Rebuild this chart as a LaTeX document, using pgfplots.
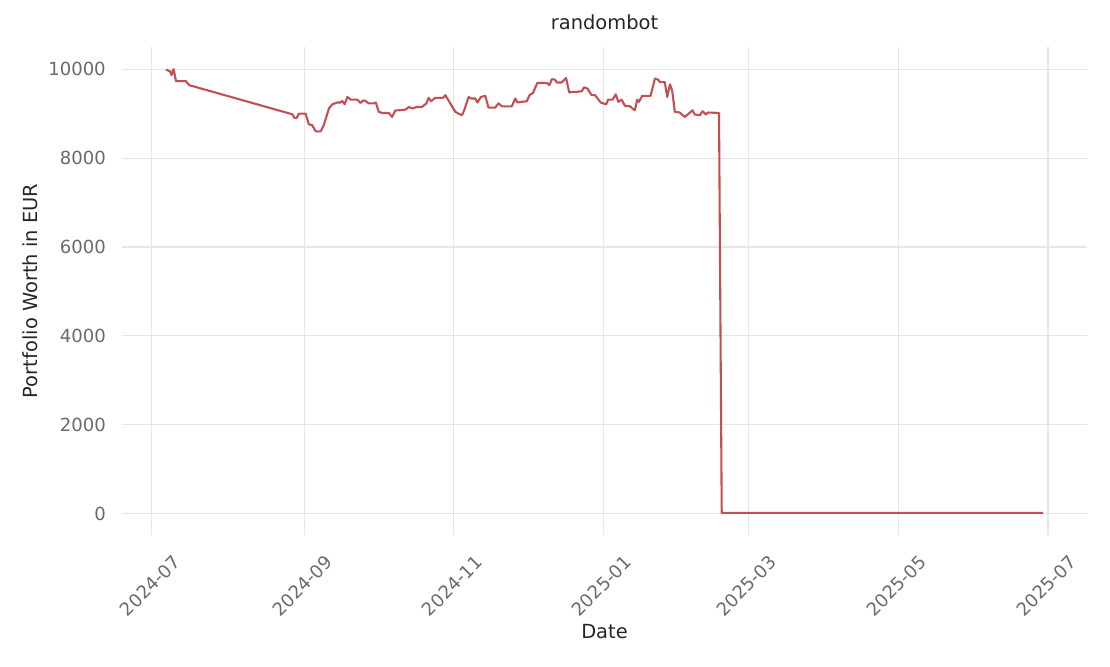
\documentclass[border=0pt]{standalone}
\usepackage{pgfplots}
\pgfplotsset{compat=1.18}
\usepackage{fontspec}
\setmainfont{DejaVu Sans}

\definecolor{linered}{HTML}{C44E52}
\definecolor{gridgray}{HTML}{E6E6E6}
\definecolor{ticktext}{HTML}{6A6A6A}
\definecolor{labeltext}{HTML}{262626}

% days since 2024-07-01, portfolio worth in EUR
\pgfplotstableread{
day value
5.7 9990
7.4 9950
8.0 9865
8.8 10000
9.8 9730
13.8 9730
15.2 9640
57.2 8985
58.1 8900
58.9 8900
59.9 9000
62.6 9000
63.9 8760
65.3 8740
66.7 8600
68.7 8600
70.0 8740
72.1 9115
73.5 9210
75.5 9250
76.8 9250
77.5 9285
78.5 9210
79.6 9375
80.9 9315
83.6 9315
85.0 9240
86.1 9300
87.0 9285
88.3 9230
90.4 9230
91.2 9250
92.4 9040
93.8 9015
96.5 9015
97.8 8925
99.2 9075
100.5 9075
103.3 9090
104.6 9150
106.0 9115
108.0 9150
110.0 9150
111.8 9230
112.7 9355
113.7 9280
115.4 9355
118.6 9355
119.5 9415
123.6 9040
124.9 9000
126.3 8965
127.2 9075
129.0 9375
130.0 9340
131.7 9340
132.6 9250
134.0 9375
135.8 9400
137.1 9135
139.8 9135
141.2 9230
142.6 9165
146.6 9165
148.0 9340
148.9 9250
150.7 9265
152.7 9280
153.8 9415
155.2 9465
157.0 9690
160.9 9690
161.9 9640
162.9 9775
164.2 9765
164.9 9700
166.9 9700
168.7 9800
170.0 9475
171.4 9490
173.0 9490
175.1 9505
176.0 9590
177.4 9565
179.1 9415
180.5 9415
182.8 9250
185.0 9210
185.9 9315
187.7 9315
188.9 9435
190.0 9265
191.3 9315
192.7 9175
194.7 9165
196.7 9075
197.7 9315
198.4 9265
199.7 9400
203.1 9400
204.9 9790
206.2 9765
206.9 9710
208.9 9710
209.9 9375
211.0 9660
211.9 9525
213.0 9040
215.0 9025
217.1 8925
220.2 9075
221.1 8980
223.2 8965
224.3 9055
225.6 8980
226.5 9025
231.0 9015
232.1 20
363.0 20
}\worth

\begin{document}
\begin{tikzpicture}
\path[use as bounding box] (0,0) rectangle (799.2pt,479.52pt);
\begin{axis}[
at={(87.84pt,94.32pt)}, anchor=south west,
width=694.8pt, height=351.36pt,
scale only axis,
xmin=-12.2, xmax=380.9,
ymin=-479, ymax=10499,
axis line style={draw=none},
major tick length=0pt,
grid=major,
major grid style={gridgray, line width=0.75pt},
xtick={0,62,123,184,243,304,365},
xticklabels={2024-07,2024-09,2024-11,2025-01,2025-03,2025-05,2025-07},
ytick={0,2000,4000,6000,8000,10000},
scaled y ticks=false,
/pgf/number format/.cd, 1000 sep={}, assume math mode=true,
/pgfplots/.cd,
tick label style={font=\fontsize{13}{15}\selectfont, text=ticktext},
yticklabel style={anchor=east, inner sep=0pt, xshift=-11.5pt},
xticklabel style={anchor=center, inner sep=0pt, xshift=-1.4pt, yshift=-36.6pt, rotate=45},
title={randombot},
title style={at={(0.5,1.0328)}, anchor=center, font=\fontsize{14}{16}\selectfont, text=labeltext},
xlabel={Date},
xlabel style={at={(0.5,-0.1988)}, anchor=center, font=\fontsize{14}{16}\selectfont, text=labeltext},
ylabel={Portfolio Worth in EUR},
ylabel style={at={(-0.0953,0.5)}, anchor=center, font=\fontsize{14}{16}\selectfont, text=labeltext},
]
\addplot[linered, line width=1.5pt, line join=round] table[x=day, y=value] {\worth};
\end{axis}
\end{tikzpicture}
\end{document}
